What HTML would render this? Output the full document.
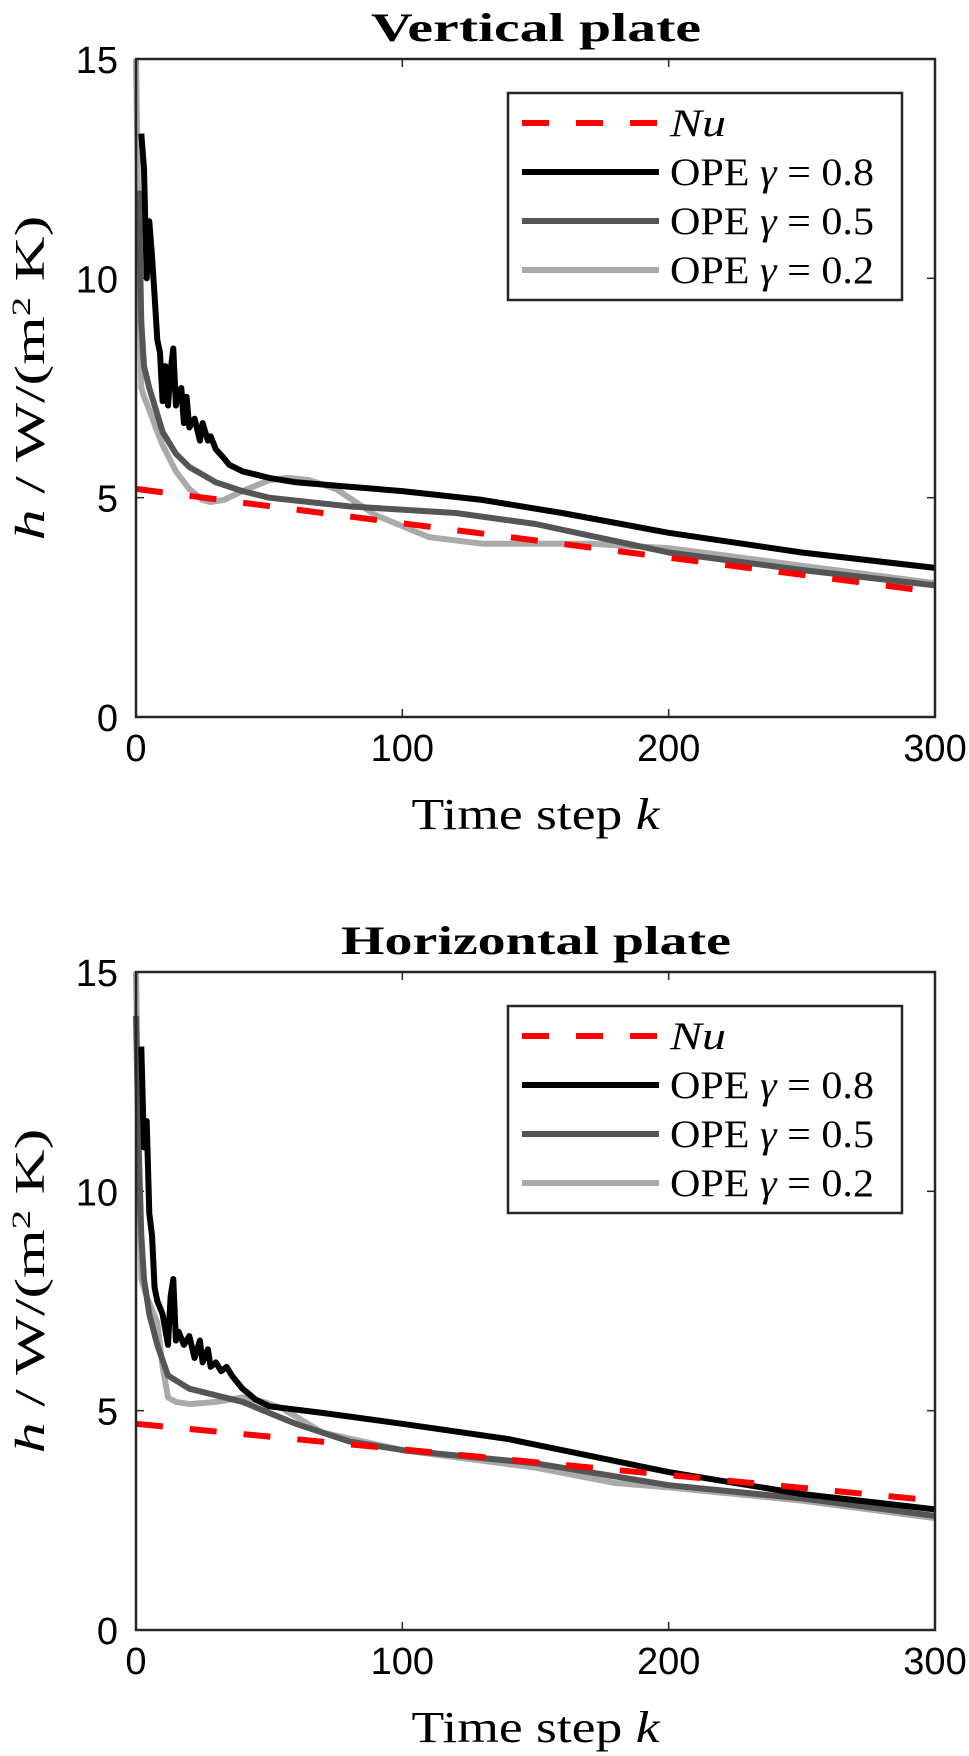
<!DOCTYPE html>
<html><head><meta charset="utf-8"><style>
body{margin:0;background:#fff;}
svg{display:block;}
.tk{font-family:"Liberation Sans",sans-serif;font-size:38px;fill:#000;}
.sf{font-family:"Liberation Serif",serif;fill:#000;}
</style></head><body>
<svg id="fig" width="969" height="1756" viewBox="0 0 969 1756" xmlns="http://www.w3.org/2000/svg"></svg>
<script>
const xTicks=[0,100,200,300];
const yTicks=[0,5,10,15];
const titles=["Vertical plate","Horizontal plate"];
// plot 1 (vertical)
const v_nu_k=[0,300];const v_nu=[5.2,2.85];
const v_08_k=[2,3,4,5,6,7,8,9,10,11,12,13,14,15,16,17,18,19,20,22,24,25,27,28,30,33,35,40,50,60,80,100,130,160,200,250,300];
const v_08=[13.3,12.5,10.0,11.3,10.5,9.6,8.6,8.3,7.2,8.0,7.1,7.9,8.4,7.1,7.4,7.5,6.7,7.3,6.6,6.8,6.3,6.7,6.3,6.4,6.1,5.9,5.75,5.6,5.45,5.35,5.25,5.15,4.95,4.65,4.2,3.75,3.4];
const v_05_k=[1,2,3,5,8,10,15,20,30,40,50,80,120,150,200,250,300];
const v_05=[12,9,8,7.5,6.9,6.5,6.0,5.7,5.35,5.15,5.0,4.8,4.65,4.4,3.75,3.35,3.0];
const v_02_k=[0,1,2,3,5,8,10,15,20,25,28,33,40,50,57,65,75,90,110,130,170,200,250,300];
const v_02=[15,11,7.5,7.3,7.0,6.5,6.2,5.6,5.2,4.95,4.9,4.95,5.15,5.4,5.45,5.4,5.2,4.6,4.1,3.95,3.95,3.85,3.45,3.05];
// plot 2 (horizontal)
const h_nu_k=[0,300];const h_nu=[4.7,2.95];
const h_08_k=[2,3,4,5,6,7,8,10,12,13,14,15,16,18,20,22,24,25,27,28,30,32,34,36,40,45,50,70,100,140,200,250,300];
const h_08=[13.3,11.0,11.6,9.5,9.0,7.8,7.5,7.2,6.5,7.6,8.0,6.6,6.8,6.5,6.7,6.2,6.6,6.1,6.4,6.0,6.1,5.9,6.0,5.8,5.5,5.25,5.1,4.95,4.7,4.35,3.6,3.1,2.75];
const h_05_k=[0,1,2,3,5,8,12,20,30,40,60,80,100,150,200,250,300];
const h_05=[14,11,9,8,7.2,6.5,5.8,5.5,5.35,5.2,4.7,4.3,4.1,3.8,3.3,3.0,2.6];
const h_02_k=[0,1,2,4,6,8,10,12,15,20,30,40,48,55,70,100,150,180,200,250,300];
const h_02=[15,11,8,7.6,7.3,7.0,6.0,5.3,5.2,5.15,5.2,5.3,5.2,5.05,4.5,4.1,3.7,3.35,3.25,2.95,2.55];

const svg=document.getElementById('fig');
const NS='http://www.w3.org/2000/svg';
function mk(tag,attrs,parent){const e=document.createElementNS(NS,tag);for(const k in attrs)e.setAttribute(k,attrs[k]);(parent||svg).appendChild(e);return e;}
const L=136,R=935,H=658;
const tops=[59,972];
const titleW=[330,390];
const plots=[
 {nu:[v_nu_k,v_nu],s8:[v_08_k,v_08],s5:[v_05_k,v_05],s2:[v_02_k,v_02]},
 {nu:[h_nu_k,h_nu],s8:[h_08_k,h_08],s5:[h_05_k,h_05],s2:[h_02_k,h_02]}];
plots.forEach((p,i)=>{
 const T=tops[i],B=T+H;
 const xs=k=>L+(k-0)/300*(R-L);
 const ys=v=>B-(v/15)*H;
 const g=mk('g',{});
 
 
 const t=mk('text',{x:536,y:T-18,'text-anchor':'middle',class:'sf','font-size':'40','font-weight':'bold',textLength:titleW[i],lengthAdjust:'spacingAndGlyphs'},g);
 t.textContent=titles[i];
 
 
 xTicks.forEach(k=>{
  const x=xs(k);
  mk('line',{x1:x,x2:x,y1:B,y2:B-8,stroke:'#262626','stroke-width':1.5},g);
  mk('line',{x1:x,x2:x,y1:T,y2:T+8,stroke:'#262626','stroke-width':1.5},g);
  const tl=mk('text',{x:x,y:B+44,'text-anchor':'middle',class:'tk'},g);
  tl.textContent=k;
  
  
 });
 yTicks.forEach(v=>{
  const y=ys(v);
  mk('line',{x1:L,x2:L+8,y1:y,y2:y,stroke:'#262626','stroke-width':1.5},g);
  mk('line',{x1:R,x2:R-8,y1:y,y2:y,stroke:'#262626','stroke-width':1.5},g);
  const tl=mk('text',{x:L-18,y:y+14,'text-anchor':'end',class:'tk'},g);
  tl.textContent=v;
  
  
 });
 function line(arr,col,dash,name){
  const pts=arr[0].map((k,j)=>xs(k).toFixed(1)+','+ys(arr[1][j]).toFixed(1)).join(' ');
  const pl=mk('polyline',{points:pts,fill:'none',stroke:col,'stroke-width':6,'stroke-linejoin':'round'},g);
  if(dash)pl.setAttribute('stroke-dasharray',dash);
  
  
 }
 line(p.s2,'#aaaaaa',null,'series-ope-0.2');
 line(p.s5,'#555555',null,'series-ope-0.5');
 line(p.s8,'#000000',null,'series-ope-0.8');
 line(p.nu,'#ff0000','27 27','series-nu');
 const ax=mk('rect',{x:L,y:T,width:R-L,height:H,fill:'none',stroke:'#262626','stroke-width':2.5},g);
 
 
 const xl=mk('text',{x:(L+R)/2,y:B+112,'text-anchor':'middle',class:'sf','font-size':'44',textLength:248,lengthAdjust:'spacingAndGlyphs'},g);
 xl.innerHTML='Time step <tspan font-style="italic">k</tspan>';
 
 
 const yl=mk('text',{x:0,y:0,'text-anchor':'middle',class:'sf','font-size':'42',textLength:325,lengthAdjust:'spacingAndGlyphs',transform:`translate(44 ${(T+B)/2-10}) rotate(-90)`},g);
 yl.innerHTML='<tspan font-style="italic">h</tspan> / W/(m<tspan dy="-14" font-size="26">2</tspan><tspan dy="14"> K)</tspan>';
 
 
 const LT=T+34;
 const lg=mk('g',{},g);
 
 
 mk('rect',{x:508,y:LT,width:394,height:207,fill:'#fff',stroke:'#262626','stroke-width':2.5},lg);
 const entries=[['#ff0000','27 27','<tspan font-style="italic">Nu</tspan>',56],['#000',null,'OPE <tspan font-style="italic">γ</tspan> = 0.8',204],['#555',null,'OPE <tspan font-style="italic">γ</tspan> = 0.5',204],['#aaa',null,'OPE <tspan font-style="italic">γ</tspan> = 0.2',204]];
 entries.forEach((e,j)=>{
  const y=LT+30+j*49;
  const ln=mk('line',{x1:522,x2:659,y1:y,y2:y,stroke:e[0],'stroke-width':6},lg);
  if(e[1])ln.setAttribute('stroke-dasharray',e[1]);
  const tx=mk('text',{x:670,y:y+13,class:'sf','font-size':'39',textLength:e[3],lengthAdjust:'spacingAndGlyphs'},lg);
  tx.innerHTML=e[2];
  
  
 });
});
</script>
</body></html>
